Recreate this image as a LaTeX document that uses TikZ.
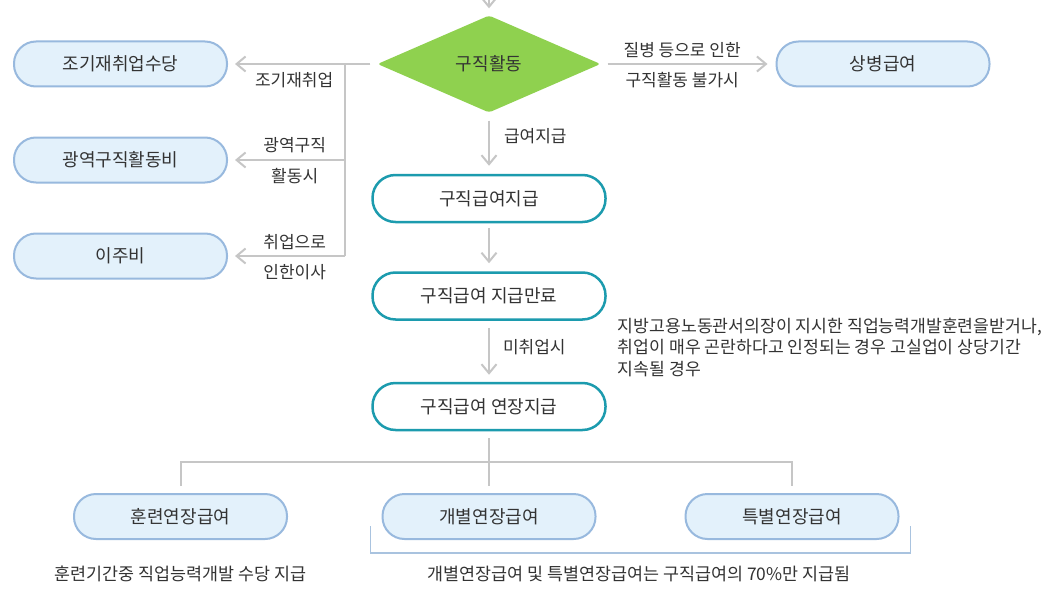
\documentclass[tikz,border=0pt]{standalone}
\usepackage{fontspec}
\setmainfont{Noto Sans CJK KR}
\usepackage{tikz}
\usetikzlibrary{arrows.meta, shapes.geometric, calc, positioning}

\definecolor{xanhla}{HTML}{8FD14F}
\definecolor{xanhngoc}{HTML}{1C9BAE}
\definecolor{nenxanh}{HTML}{E3F1FB}
\definecolor{vienxanh}{HTML}{98B9DE}
\definecolor{xam}{HTML}{C6C6C6}
\definecolor{chu}{HTML}{333333}
\definecolor{ngoac}{HTML}{A9C3DF}

\tikzset{
  hop/.style={draw=vienxanh, fill=nenxanh, line width=2pt, rounded corners=22pt, minimum width=213pt, minimum height=45pt, inner sep=0pt, text=chu, font=\fontsize{18}{21}\selectfont},
  hopchinh/.style={draw=xanhngoc, fill=white, line width=2.5pt, rounded corners=23pt, minimum width=233pt, minimum height=47pt, inner sep=0pt, text=chu, font=\fontsize{18}{21}\selectfont},
  duong/.style={draw=xam, line width=2pt},
  muiten/.style={duong, -{Straight Barb[length=9pt,width=15pt]}},
  nhan/.style={text=chu, font=\fontsize{17}{20}\selectfont, inner sep=0pt},
}

\begin{document}
\begin{tikzpicture}[x=1pt,y=-1pt]

        % Khung hình
        \fill[white] (0,0) rectangle (1051,615);
        \useasboundingbox (0,0) rectangle (1051,615);

        % Hình thoi ở giữa
        \node[diamond, aspect=2.3, fill=xanhla, rounded corners=3pt, minimum width=223pt, minimum height=97pt, inner sep=0pt, text=chu, font=\fontsize{18}{21}\selectfont] (act) at (489,64) {구직활동};

        % Các hộp bên trái và bên phải
        \node[hop] (sudang) at (120.5,64) {조기재취업수당};
        \node[hop] (gwangyeok) at (120.5,160) {광역구직활동비};
        \node[hop] (iju) at (120.5,256) {이주비};
        \node[hop] (sangbyeong) at (883,64) {상병급여};

        % Cột giữa
        \node[hopchinh] (jigeup) at (489,198.5) {구직급여지급};
        \node[hopchinh] (manryo) at (489,296) {구직급여 지급만료};
        \node[hopchinh] (yeonjang) at (489,406.5) {구직급여 연장지급};

        % Hàng dưới
        \node[hop] (hunryeon) at (180.5,516.5) {훈련연장급여};
        \node[hop] (gaebyeol) at (489,516.5) {개별연장급여};
        \node[hop] (teukbyeol) at (792,516.5) {특별연장급여};

        % Mũi tên vào hình thoi
        \coordinate (tren) at (489,-10);
        \draw[muiten, shorten >=7pt] (tren) -- (act.north);

        % Nhánh trái
        \coordinate (re) at (345,64);
        \draw[muiten, shorten <=7pt, shorten >=7pt] (act.west) -- (sudang.east)
            node[nhan, pos=0.557, yshift=-16pt] {조기재취업};
        \draw[duong] (re) -- (re |- iju.east);
        \draw[muiten, shorten >=7pt] (re |- gwangyeok.east) -- (gwangyeok.east)
            node[nhan, pos=0.43, yshift=15pt] {광역구직}
            node[nhan, pos=0.43, yshift=-16pt] {활동시};
        \draw[muiten, shorten >=7pt] (re |- iju.east) -- (iju.east)
            node[nhan, pos=0.43, yshift=14pt] {취업으로}
            node[nhan, pos=0.43, yshift=-16pt] {인한이사};

        % Nhánh phải
        \draw[muiten, shorten <=7pt, shorten >=8pt] (act.east) -- (sangbyeong.west)
            node[nhan, pos=0.466, yshift=13.5pt] {질병 등으로 인한}
            node[nhan, pos=0.466, yshift=-16pt] {구직활동 불가시};

        % Mũi tên cột giữa
        \draw[muiten, shorten <=8pt, shorten >=8pt] (act.south) -- (jigeup.north)
            node[nhan, pos=0.39, anchor=west, xshift=14pt] {급여지급};
        \draw[muiten, shorten <=5pt, shorten >=8pt] (jigeup.south) -- (manryo.north);
        \draw[muiten, shorten <=7pt, shorten >=7pt] (manryo.south) -- (yeonjang.north)
            node[nhan, pos=0.43, anchor=west, xshift=13pt] {미취업시};

        % Ghi chú bên phải
        \node[nhan, anchor=north west, align=left, font=\fontsize{17.2}{21.5}\selectfont] (ghichu) at ([shift={(11,21.5)}]manryo.east)
            {지방고용노동관서의장이 지시한 직업능력개발훈련을받거나,\\취업이 매우 곤란하다고 인정되는 경우 고실업이 상당기간\\지속될 경우};

        % Đường chia nhánh phía dưới
        \coordinate (nhanh) at (489,462);
        \draw[duong, shorten <=7pt] (yeonjang.south) -- (nhanh);
        \draw[duong, shorten <=7pt, shorten >=7pt] (hunryeon.north) |- (nhanh) -| (teukbyeol.north);
        \draw[duong, shorten >=7pt] (nhanh) -- (gaebyeol.north);

        % Ngoặc dưới hai hộp
        \draw[draw=ngoac, line width=1.2pt] ([shift={(-11,9.5)}]gaebyeol.west) -- ([shift={(-11,36.5)}]gaebyeol.west) -| ([shift={(11,9.5)}]teukbyeol.east);

        % Ghi chú dưới cùng
        \node[nhan, font=\fontsize{17.4}{20}\selectfont] (ghichu1) at ([shift={(0,57.5)}]hunryeon.center) {훈련기간중 직업능력개발 수당 지급};
        \node[nhan, font=\fontsize{17.4}{20}\selectfont] (ghichu2) at ($(gaebyeol.center)!0.5!(teukbyeol.center)+(-1.5,57.5)$) {개별연장급여 및 특별연장급여는 구직급여의 70\%만 지급됨};

        \end{tikzpicture}
\end{document}
